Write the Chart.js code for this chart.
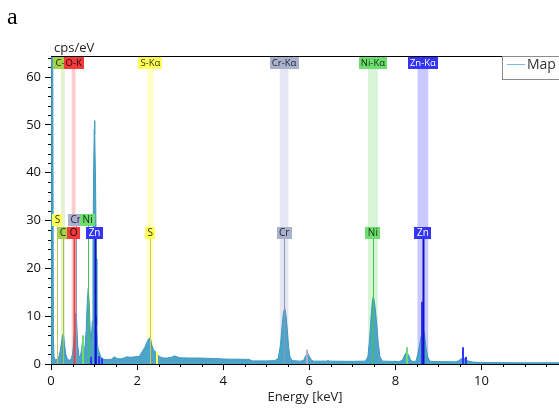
<!DOCTYPE html>
<html>
<head>
<meta charset="utf-8">
<script src="https://cdn.jsdelivr.net/npm/chart.js@4.4.0/dist/chart.umd.min.js"></script>
<style>
  html, body { margin: 0; padding: 0; background: #fff; }
  #wrap { width: 559px; height: 408px; }
</style>
</head>
<body>
<div id="wrap"><canvas id="spectrum" width="559" height="408"></canvas></div>
<script>
// EDS spectrum: energy (keV) / intensity (cps/eV)
const energy = [0.00, 0.005, 0.04, 0.055, 0.07, 0.10, 0.14, 0.18, 0.21, 0.24, 0.27, 0.29, 0.31, 0.34, 0.38, 0.43, 0.47, 0.50, 0.53, 0.555,
  0.575, 0.595, 0.62, 0.65, 0.68, 0.71, 0.74, 0.765, 0.79, 0.82, 0.845, 0.865, 0.885, 0.91, 0.935, 0.96, 0.975, 0.99, 1.005, 1.012,
  1.02, 1.035, 1.05, 1.065, 1.08, 1.10, 1.13, 1.16, 1.22, 1.30, 1.40, 1.48, 1.54, 1.65, 1.76, 1.85, 1.95, 2.05, 2.12, 2.18,
  2.23, 2.27, 2.31, 2.34, 2.38, 2.43, 2.47, 2.53, 2.60, 2.70, 2.80, 2.87, 2.93, 3.00, 3.20, 3.40, 3.60, 3.80, 4.00, 4.20,
  4.40, 4.60, 4.68, 5.00, 5.20, 5.28, 5.33, 5.37, 5.40, 5.43, 5.46, 5.49, 5.52, 5.55, 5.60, 5.80, 5.87, 5.92, 5.96, 6.00,
  6.05, 6.10, 6.40, 6.43, 6.47, 7.00, 7.30, 7.36, 7.40, 7.44, 7.47, 7.49, 7.52, 7.56, 7.60, 7.64, 7.70, 8.10, 8.17, 8.22,
  8.26, 8.30, 8.35, 8.40, 8.48, 8.53, 8.58, 8.63, 8.67, 8.71, 8.75, 8.80, 8.90, 9.40, 9.47, 9.53, 9.58, 9.64, 9.70, 9.80,
  10.0, 11.0, 11.8];
const cps = [0, 70, 70, 6, 1.5, 0.8, 1.0, 1.4, 2.5, 4.2, 6.0, 6.3, 4.5, 2.2, 1.0, 0.8, 1.1, 2.0, 4.5, 8.5,
  10.6, 9.0, 4.0, 1.6, 1.5, 3.0, 5.4, 3.5, 3.2, 7.5, 13.5, 15.8, 13.0, 7.0, 5.0, 9.0, 24.0, 40.0, 49.0, 50.9,
  48.0, 38.0, 22.0, 8.0, 4.0, 3.0, 2.2, 1.4, 1.0, 0.9, 1.0, 1.5, 1.1, 1.1, 1.5, 1.4, 1.5, 1.6, 2.6, 3.5,
  4.6, 5.3, 5.4, 4.0, 3.0, 2.5, 2.0, 1.5, 1.25, 1.25, 1.4, 1.7, 1.5, 1.3, 1.25, 1.25, 1.2, 1.15, 1.05, 1.0,
  1.0, 0.95, 0.65, 0.65, 0.7, 1.2, 4.0, 8.0, 10.8, 11.7, 10.0, 7.0, 3.5, 1.5, 0.7, 0.6, 0.8, 1.8, 2.3, 1.6,
  0.8, 0.6, 0.6, 0.75, 0.6, 0.55, 0.6, 1.5, 5.0, 10.5, 13.5, 14.1, 12.5, 9.0, 4.5, 1.5, 0.6, 0.5, 0.9, 2.0,
  2.5, 2.0, 0.9, 0.5, 0.6, 2.5, 5.0, 7.3, 6.5, 3.6, 1.5, 0.6, 0.5, 0.45, 0.7, 1.1, 1.2, 1.0, 0.6, 0.4,
  0.3, 0.25, 0.25];

// element line tags (name, energy keV)
const lineNames = ['S', 'C', 'Cr', 'O', 'Ni', 'Zn', 'S', 'Cr', 'Ni', 'Zn'];
const lineEnergy = [0.149, 0.277, 0.573, 0.525, 0.851, 1.012, 2.307, 5.414, 7.477, 8.638];

// highlighted K-line bands along the top
const bandNames = ['C-K', 'O-K', 'S-Kα', 'Cr-Kα', 'Ni-Kα', 'Zn-Kα'];
const bandElements = ['C', 'O', 'S', 'Cr', 'Ni', 'Zn'];
const bandEnergy = [0.277, 0.525, 2.307, 5.414, 7.477, 8.638];

// fitted line markers inside the spectrum
const fitElements = ['Ni', 'Zn', 'Zn', 'Zn', 'Zn', 'S', 'Cr', 'Ni', 'Zn', 'Zn', 'Zn'];
const fitEnergy = [0.749, 0.94, 1.035, 1.107, 1.19, 2.464, 5.947, 8.264, 8.618, 9.572, 9.65];
const fitHeight = [6, 1.5, 10, 1.6, 1.2, 2.5, 3, 3.5, 13, 3.5, 1.5];

// styling
const FONT = "'Open Sans', 'DejaVu Sans', sans-serif";
const tagColor = { C: '#a6cf4a', O: '#ef3b3b', S: '#ffff5a', Cr: '#a9b1cd', Ni: '#6fdc6f', Zn: '#3434fa' };
const tagText = { C: '#1e2a00', O: '#2a0000', S: '#333300', Cr: '#1e2230', Ni: '#0c300c', Zn: '#ffffff' };
const bandColor = { C: '#e5f1cb', O: '#ffcaca', S: '#ffffc2', Cr: '#e4e7f2', Ni: '#d8f5d8', Zn: '#c9c9ff' };
const stemColor = { C: '#9cc83a', O: '#e84444', S: '#c8c84a', Cr: '#8e96b8', Ni: '#44c444', Zn: '#1010c8' };
const bandHalf = { C: 0.045, O: 0.045, S: 0.07, Cr: 0.1, Ni: 0.115, Zn: 0.125 };
const lineRow = [0, 1, 0, 1, 0, 1, 1, 1, 1, 1];
const rowTop = [31.4, 28.7]; // cps/eV level of each tag row's top edge

const markers = {
  id: 'markers',
  beforeDatasetsDraw(chart) {
    const { ctx, chartArea: a, scales: { x } } = chart;
    ctx.save();
    ctx.beginPath();
    ctx.rect(a.left, a.top, a.right - a.left, a.bottom - a.top);
    ctx.clip();
    bandElements.forEach((el, i) => {
      const x0 = x.getPixelForValue(bandEnergy[i] - bandHalf[el]);
      const x1 = x.getPixelForValue(bandEnergy[i] + bandHalf[el]);
      ctx.fillStyle = bandColor[el];
      ctx.fillRect(x0, a.top, x1 - x0, a.bottom - a.top);
    });
    ctx.restore();
  },
  afterDatasetsDraw(chart) {
    const { ctx, chartArea: a, scales: { x, y } } = chart;
    ctx.save();
    ctx.beginPath();
    ctx.rect(a.left, a.top, a.right - a.left, a.bottom - a.top);
    ctx.clip();

    // fitted line markers
    fitElements.forEach((el, i) => {
      const px = Math.round(x.getPixelForValue(fitEnergy[i]));
      ctx.fillStyle = tagColor[el];
      ctx.fillRect(px - 1, y.getPixelForValue(fitHeight[i]), 2, a.bottom - y.getPixelForValue(fitHeight[i]));
    });

    // stems from tag to baseline
    lineNames.forEach((el, i) => {
      const px = Math.round(x.getPixelForValue(lineEnergy[i])) + 0.5;
      const top = y.getPixelForValue(rowTop[lineRow[i]]) + 12;
      ctx.strokeStyle = stemColor[el];
      ctx.lineWidth = el === 'O' || el === 'Zn' ? 2 : 1;
      ctx.beginPath();
      ctx.moveTo(px, top);
      ctx.lineTo(px, a.bottom);
      ctx.stroke();
    });

    // tags
    ctx.font = '10px ' + FONT;
    ctx.textAlign = 'center';
    ctx.textBaseline = 'middle';
    lineNames.forEach((el, i) => {
      const px = x.getPixelForValue(lineEnergy[i]);
      const top = Math.round(y.getPixelForValue(rowTop[lineRow[i]]));
      const w = Math.round(ctx.measureText(el).width) + 5;
      ctx.fillStyle = tagColor[el];
      ctx.fillRect(Math.round(px - w / 2), top, w, 12);
      ctx.fillStyle = tagText[el];
      ctx.fillText(el, px, top + 6.5);
    });

    // band titles along the top
    ctx.font = '9.5px ' + FONT;
    bandNames.forEach((name, i) => {
      const el = bandElements[i];
      const px = x.getPixelForValue(bandEnergy[i]);
      const w = Math.round(ctx.measureText(name).width) + 4;
      ctx.fillStyle = tagColor[el];
      ctx.fillRect(Math.round(px - w / 2), a.top + 1, w, 12);
      ctx.fillStyle = tagText[el];
      ctx.fillText(name, px, a.top + 7.5);
    });
    ctx.restore();
  },
  afterDraw(chart) {
    const { ctx, chartArea: a, scales: { x, y } } = chart;
    ctx.save();
    // minor ticks
    ctx.strokeStyle = '#000';
    ctx.lineWidth = 1;
    ctx.beginPath();
    for (let v = 0.5; v <= x.max; v += 0.5) {
      if (v % 2 === 0) continue;
      const px = Math.round(x.getPixelForValue(v)) + 0.5;
      ctx.moveTo(px, a.bottom);
      ctx.lineTo(px, a.bottom + 3);
    }
    for (let v = 2; v <= y.max; v += 2) {
      if (v % 10 === 0) continue;
      const py = Math.round(y.getPixelForValue(v)) + 0.5;
      ctx.moveTo(a.left - 3, py);
      ctx.lineTo(a.left, py);
    }
    // top frame line
    ctx.moveTo(a.left, a.top + 0.5);
    ctx.lineTo(a.right, a.top + 0.5);
    ctx.stroke();

    // legend
    const ds = chart.data.datasets[0];
    ctx.fillStyle = '#fff';
    ctx.fillRect(502, 56, 70, 24);
    ctx.strokeStyle = '#8a8a8a';
    ctx.strokeRect(502.5, 56.5, 70, 23);
    ctx.strokeStyle = '#79bcd9';
    ctx.beginPath();
    ctx.moveTo(507, 64.5);
    ctx.lineTo(525, 64.5);
    ctx.stroke();
    ctx.fillStyle = '#333';
    ctx.font = '14px ' + FONT;
    ctx.textAlign = 'left';
    ctx.textBaseline = 'middle';
    ctx.fillText(ds.label, 527, 65);

    // unit label and panel letter
    ctx.fillStyle = '#222';
    ctx.font = '13px ' + FONT;
    ctx.textBaseline = 'alphabetic';
    ctx.fillText('cps/eV', 54, 52);
    ctx.fillStyle = '#000';
    ctx.font = "24px 'Liberation Serif', 'Times New Roman', serif";
    ctx.fillText('a', 7, 24);
    ctx.restore();
  }
};

new Chart(document.getElementById('spectrum'), {
  type: 'line',
  data: {
    datasets: [{
      label: 'Map',
      data: energy.map((e, i) => ({ x: e, y: cps[i] })),
      fill: 'origin',
      backgroundColor: 'rgb(76,164,200)',
      borderColor: 'rgb(62,152,192)',
      borderWidth: 1,
      pointRadius: 0,
      tension: 0
    }]
  },
  options: {
    responsive: false,
    animation: false,
    devicePixelRatio: 1,
    layout: { padding: { top: 56, left: 0, right: 0, bottom: 0 } },
    plugins: { legend: { display: false }, tooltip: { enabled: false } },
    scales: {
      x: {
        type: 'linear',
        min: 0,
        max: 11.8,
        ticks: { stepSize: 2, includeBounds: false, padding: 3, color: '#111', maxRotation: 0, autoSkip: false, font: { family: FONT, size: 13 } },
        grid: { drawOnChartArea: false, tickLength: 6, tickColor: '#000' },
        border: { color: '#000', width: 1 },
        title: { display: true, text: 'Energy [keV]', color: '#222', font: { family: FONT, size: 13 }, padding: { top: 0, bottom: 3 } },
        afterFit: (s) => { s.height = 44; }
      },
      y: {
        min: 0,
        max: 64.4,
        ticks: { stepSize: 10, includeBounds: false, padding: 4, color: '#111', font: { family: FONT, size: 13 } },
        grid: { drawOnChartArea: false, tickLength: 6, tickColor: '#000' },
        border: { color: '#000', width: 1 },
        afterFit: (s) => { s.width = 51; }
      }
    }
  },
  plugins: [markers]
});
</script>
</body>
</html>
